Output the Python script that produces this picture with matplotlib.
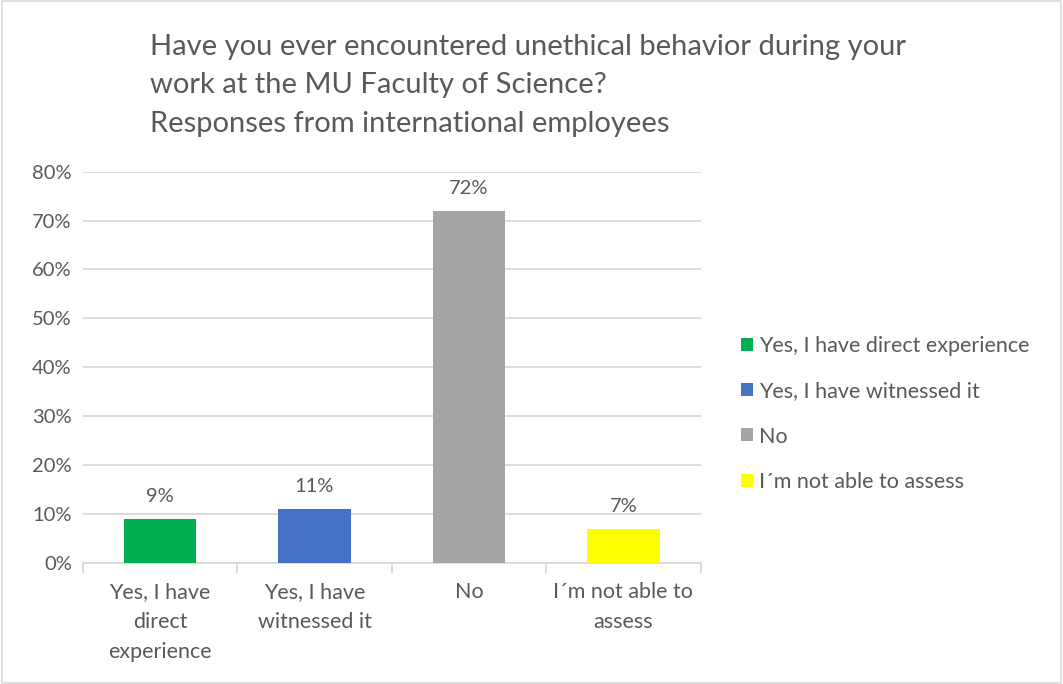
import matplotlib.pyplot as plt
from matplotlib.patches import Rectangle
from matplotlib.ticker import PercentFormatter

# survey answers and shares of respondents
answers = ["Yes, I have direct experience", "Yes, I have witnessed it",
           "No", "I´m not able to assess"]
tick_labels = ["Yes, I have\ndirect\nexperience", "Yes, I have\nwitnessed it",
               "No", "I´m not able to\nassess"]
shares = [0.09, 0.11, 0.72, 0.07]
colors = ["#00B050", "#4472C4", "#A5A5A5", "#FFFF00"]

plt.rcParams['font.family'] = ['Lato', 'DejaVu Sans']
text_col = "#595959"
grid_col = "#D9D9D9"

fig = plt.figure(figsize=(10.63, 6.84), dpi=100)
ax = fig.add_axes([0.078, 0.177, 0.581, 0.572])

x = range(len(answers))
bars = ax.bar(x, shares, width=0.47, color=colors, label=answers, zorder=3)

for b, v in zip(bars, shares):
    ax.text(b.get_x() + b.get_width() / 2, v + 0.028, f"{v:.0%}",
            ha='center', va='bottom', fontsize=14.5, color=text_col)

ax.set_ylim(0, 0.8)
ax.set_xlim(-0.5, len(answers) - 0.5)
ax.set_yticks([i / 10 for i in range(9)])
ax.yaxis.set_major_formatter(PercentFormatter(1.0, decimals=0))
ax.grid(axis='y', color=grid_col, linewidth=1.3, zorder=0)
ax.tick_params(axis='y', length=0, labelsize=14.5, labelcolor=text_col, pad=8)

# category labels centred, ticks at the category boundaries
ax.set_xticks(list(x))
ax.set_xticklabels(tick_labels, fontsize=15.5, color=text_col, linespacing=1.62)
ax.tick_params(axis='x', which='major', length=0, pad=14)
ax.set_xticks([i - 0.5 for i in range(len(answers) + 1)], minor=True)
ax.tick_params(axis='x', which='minor', length=7, color=grid_col, width=1.3)

for side in ['top', 'right', 'left']:
    ax.spines[side].set_visible(False)
ax.spines['bottom'].set_color(grid_col)
ax.spines['bottom'].set_linewidth(1.3)

fig.text(0.141, 0.951,
         "Have you ever encountered unethical behavior during your\n"
         "work at the MU Faculty of Science?\n"
         "Responses from international employees",
         ha='left', va='top', fontsize=21, color=text_col, linespacing=1.6)

leg = fig.legend(handles=bars, labels=answers, loc='center left',
                 bbox_to_anchor=(0.679, 0.395), frameon=False, fontsize=15.5,
                 labelcolor=text_col, handlelength=0.55, handleheight=0.55,
                 handletextpad=0.3, labelspacing=1.18)

# light frame around the whole chart
fig.add_artist(Rectangle((0.002, 0.002), 0.996, 0.996, transform=fig.transFigure,
                         fill=False, edgecolor=grid_col, linewidth=1.2))

fig.savefig("out.png", dpi=100, facecolor='white')
